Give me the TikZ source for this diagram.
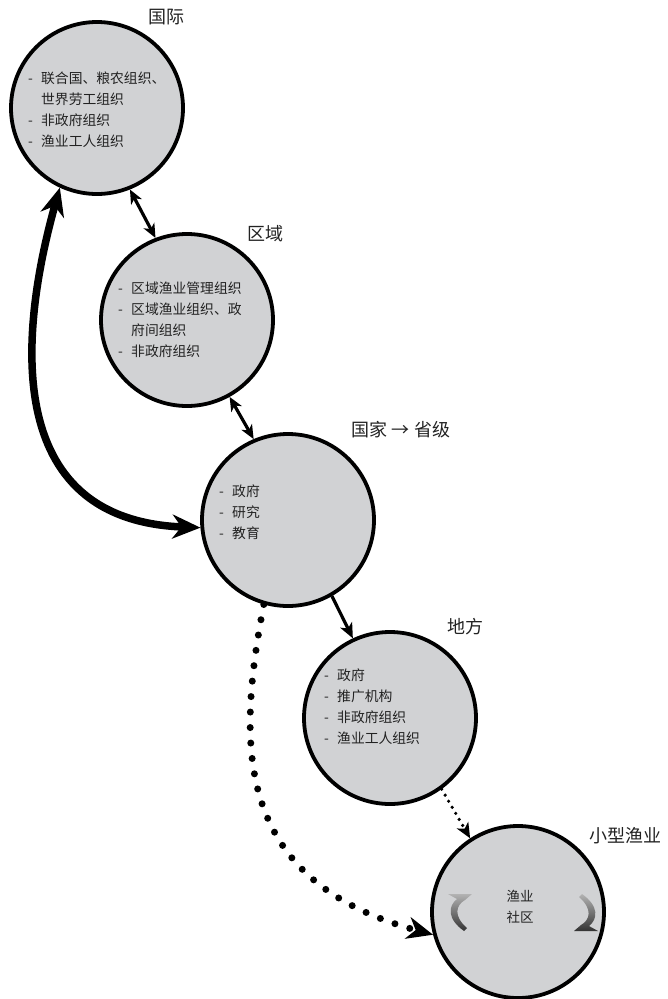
\documentclass[tikz,border=0pt]{standalone}
\usepackage{fontspec}
\setmainfont{Noto Sans CJK SC}
\usetikzlibrary{arrows.meta}
\definecolor{circfill}{HTML}{D1D2D4}
\definecolor{txt}{HTML}{222222}
\tikzset{
  circ/.style={circle, draw=black, line width=3.8pt, fill=circfill, minimum size=172pt, inner sep=0pt},
  lbl/.style={font=\fontsize{18}{20}\selectfont, text=txt, inner sep=0pt},
  body/.style={font=\fontsize{13.8}{21}\selectfont, text=txt, align=left, anchor=north west, inner sep=0pt},
  small/.style={font=\fontsize{13.5}{21}\selectfont, text=txt, align=center, inner sep=0pt},
  dbl/.style={line width=3.2pt, {Stealth[length=14pt,width=12pt,inset=4pt]}-{Stealth[length=14pt,width=12pt,inset=4pt]}},
  single/.style={line width=3.2pt, -{Stealth[length=15pt,width=13pt,inset=4pt]}},
  bigarrow/.style={line width=7.5pt, {Stealth[length=28pt,width=24pt,inset=9pt]}-{Stealth[length=28pt,width=24pt,inset=9pt]}},
  bigdots/.style={line width=7pt, line cap=round, dash pattern=on 0pt off 15.5pt, -{Stealth[length=26pt,width=22pt,inset=8pt]}},
  smalldots/.style={line width=3.6pt, line cap=round, dash pattern=on 0pt off 7pt, -{Stealth[length=15pt,width=13pt,inset=4pt]}},
  curlshade/.style={top color=gray!60, middle color=gray!25, bottom color=black!80}
}
\newcommand{\bl}{\makebox[13pt][l]{-}}
\newcommand{\ind}{\hspace*{13pt}}
\begin{document}
\begin{tikzpicture}[x=1pt,y=-1pt]
\useasboundingbox (0,0) rectangle (667,999);

% circles
\node[circ] (c1) at (97,108) {};
\node[circ] (c2) at (187,320) {};
\node[circ] (c3) at (288,520) {};
\node[circ] (c4) at (390,718) {};
\node[circ] (c5) at (518,912) {};

% labels
\node[lbl] (l1) at (166,17) {国际};
\node[lbl] (l2) at (265,234) {区域};
\node[lbl] (l3) at (401,430) {国家 → 省级};
\node[lbl] (l4) at (465,627) {地方};
\node[lbl] (l5) at (625,836) {小型渔业};

% circle texts
\node[body] (t1) at (28,72) {\bl 联合国、粮农组织、\\ \ind 世界劳工组织\\ \bl 非政府组织\\ \bl 渔业工人组织};
\node[body] (t2) at (118,282) {\bl 区域渔业管理组织\\ \bl 区域渔业组织、政\\ \ind 府间组织\\ \bl 非政府组织};
\node[body] (t3) at (219,485) {\bl 政府\\ \bl 研究\\ \bl 教育};
\node[body] (t4) at (324,669) {\bl 政府\\ \bl 推广机构\\ \bl 非政府组织\\ \bl 渔业工人组织};
\node[small] (t5) at (520,907) {渔业\\ 社区};

% connectors
\draw[dbl] (c1.-68) -- (c2.111);
\draw[dbl] (c2.-61) -- (c3.113);
\draw[single] (c3.-60) -- (c4.115);
\draw[smalldots] (c4.-54) -- (c5.123);
\draw[bigarrow] (c1.-115) .. controls (20,330) and (0,520) .. (c3.185);
\draw[bigdots] (c3.-106) .. controls (238,740) and (230,880) .. (c5.195);

% curl arrows inside community circle
\begin{scope}[shift={(460,912)}]
\shade[curlshade] (-12,-18) -- (12,-18) -- (5,-12) .. controls (-4,-7) and (-7,4) .. (7,16) -- (4,19) .. controls (-13,7) and (-12,-6) .. (-3,-13) -- cycle;
\end{scope}
\begin{scope}[shift={(586,913)}, rotate=180]
\shade[curlshade] (-12,-18) -- (12,-18) -- (5,-12) .. controls (-4,-7) and (-7,4) .. (7,16) -- (4,19) .. controls (-13,7) and (-12,-6) .. (-3,-13) -- cycle;
\end{scope}
\end{tikzpicture}
\end{document}
